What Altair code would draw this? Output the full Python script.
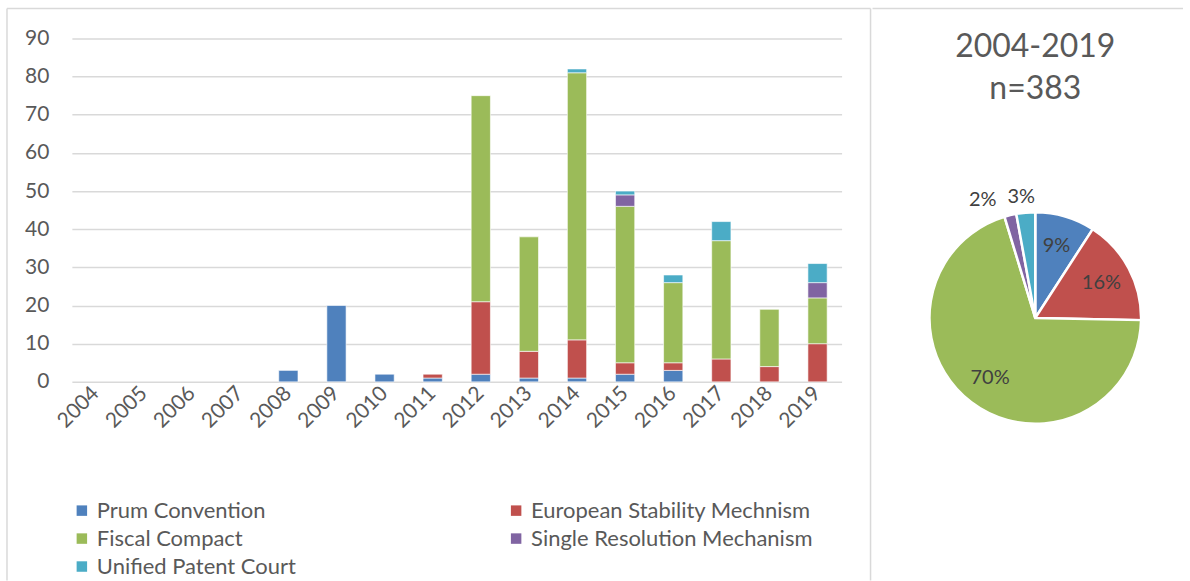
import altair as alt
import pandas as pd

# Yearly counts per treaty (stacked bars)
years = [str(y) for y in range(2004, 2020)]
series = ["Prum Convention", "European Stability Mechnism", "Fiscal Compact",
          "Single Resolution Mechanism", "Unified Patent Court"]
colors = ["#4F81BD", "#C0504D", "#9BBB59", "#8064A2", "#4BACC6"]

prum = [0, 0, 0, 0, 3, 20, 2, 1, 2, 1, 1, 2, 3, 0, 0, 0]
esm = [0, 0, 0, 0, 0, 0, 0, 1, 19, 7, 10, 3, 2, 6, 4, 10]
fiscal = [0, 0, 0, 0, 0, 0, 0, 0, 54, 30, 70, 41, 21, 31, 15, 12]
srm = [0, 0, 0, 0, 0, 0, 0, 0, 0, 0, 0, 3, 0, 0, 0, 4]
upc = [0, 0, 0, 0, 0, 0, 0, 0, 0, 0, 1, 1, 2, 5, 0, 5]

# Totals for the whole period (pie)
pie_totals = [35, 62, 268, 7, 11]

FONT = "Lato"
TXT = "#595959"
GRID = "#D9D9D9"

rows = []
for i, (name, vals) in enumerate(zip(series, [prum, esm, fiscal, srm, upc])):
    for yr, v in zip(years, vals):
        if v > 0:
            rows.append({"year": yr, "series": name, "count": v, "idx": i})
bar_df = pd.DataFrame(rows)

color_scale = alt.Scale(domain=series, range=colors)

bars = alt.Chart(bar_df).mark_bar(stroke="white", strokeWidth=0.6).encode(
    x=alt.X("year:O", scale=alt.Scale(domain=years, paddingInner=0.6, paddingOuter=0.3),
            axis=alt.Axis(title=None, labelAngle=315, labelAlign="right",
                          labelBaseline="middle", labelPadding=8, ticks=False,
                          domain=False, labelFont=FONT, labelFontSize=21,
                          labelColor=TXT)),
    y=alt.Y("count:Q", stack="zero", scale=alt.Scale(domain=[0, 90], nice=False),
            axis=alt.Axis(title=None, values=list(range(0, 100, 10)), grid=True,
                          gridColor=GRID, gridWidth=1.5, ticks=False, domain=False,
                          labelPadding=23, labelFont=FONT, labelFontSize=21,
                          labelColor=TXT)),
    color=alt.Color("series:N", scale=color_scale,
                    legend=alt.Legend(title=None, orient="none", legendX=-1, legendY=462,
                                      direction="horizontal", columns=2,
                                      symbolType="square", symbolSize=110,
                                      symbolStrokeWidth=0, labelFont=FONT,
                                      labelFontSize=22, labelColor=TXT, labelOffset=4,
                                      columnPadding=209, rowPadding=6, padding=0,
                                      labelLimit=400)),
    order=alt.Order("idx:Q"),
)

one = pd.DataFrame({"k": [0]})
border = alt.Chart(one).mark_rule(color=GRID, strokeWidth=1.5)
top_line = border.encode(x=alt.value(-65), x2=alt.value(800), y=alt.value(-30))
left_line = border.encode(x=alt.value(-65), y=alt.value(-30), y2=alt.value(543))
divider = border.encode(x=alt.value(800), y=alt.value(-30), y2=alt.value(543))

left = alt.layer(bars, top_line, left_line, divider).properties(width=771, height=344)

# Pie of the period totals
CX, CY = 163, 280
pie_df = pd.DataFrame({"series": series, "total": pie_totals, "idx": list(range(5))})
base = alt.Chart(pie_df).transform_joinaggregate(
    n="sum(total)"
).transform_window(
    cum="sum(total)", sort=[alt.SortField("idx")], frame=[None, 0]
).transform_calculate(
    mid="datum.cum - datum.total / 2",
    share="datum.total / datum.n",
    pct="round(100 * datum.total / datum.n) + '%'",
)

arc = base.mark_arc(outerRadius=106, stroke="white", strokeWidth=2.5).encode(
    theta=alt.Theta("total:Q", stack=True),
    color=alt.Color("series:N", scale=color_scale, legend=None),
    order=alt.Order("idx:Q"),
    x=alt.value(CX), y=alt.value(CY),
)

inner = base.transform_filter("datum.share >= 0.05").mark_text(
    radius=75, font=FONT, fontSize=20, color="#404040"
).encode(theta=alt.Theta("mid:Q"), text="pct:N", x=alt.value(CX), y=alt.value(CY))

outer_srm = base.transform_filter(f"datum.series == '{series[3]}'").mark_text(
    radius=122, font=FONT, fontSize=20, color="#404040", align="right", dx=-10
).encode(theta=alt.Theta("mid:Q"), text="pct:N", x=alt.value(CX), y=alt.value(CY))

outer_upc = base.transform_filter(f"datum.series == '{series[4]}'").mark_text(
    radius=122, font=FONT, fontSize=20, color="#404040", align="center", dx=-3
).encode(theta=alt.Theta("mid:Q"), text="pct:N", x=alt.value(CX), y=alt.value(CY))

period = pd.DataFrame({"label": [f"{years[0]}-{years[-1]}"]})
title1 = alt.Chart(period).mark_text(font=FONT, fontSize=32, color=TXT).encode(
    text="label:N", x=alt.value(CX), y=alt.value(9))
title2 = alt.Chart(pie_df).transform_aggregate(n="sum(total)").transform_calculate(
    label="'n=' + datum.n"
).mark_text(font=FONT, fontSize=32, color=TXT).encode(
    text="label:N", x=alt.value(CX), y=alt.value(51))

pie_top = alt.Chart(one).mark_rule(color=GRID, strokeWidth=1.5).encode(
    x=alt.value(0), x2=alt.value(311), y=alt.value(-30))

right = alt.layer(arc, inner, outer_srm, outer_upc, title1, title2, pie_top).properties(
    width=318, height=344)

chart = alt.hconcat(left, right, spacing=0).resolve_scale(
    color="independent", theta="independent"
).resolve_legend(color="independent").properties(
    padding={"left": 6, "top": 7, "right": 0, "bottom": 0},
    background="white",
).configure_view(stroke=None)

chart.save("out.html", embed_options={"renderer": "svg", "actions": False})
